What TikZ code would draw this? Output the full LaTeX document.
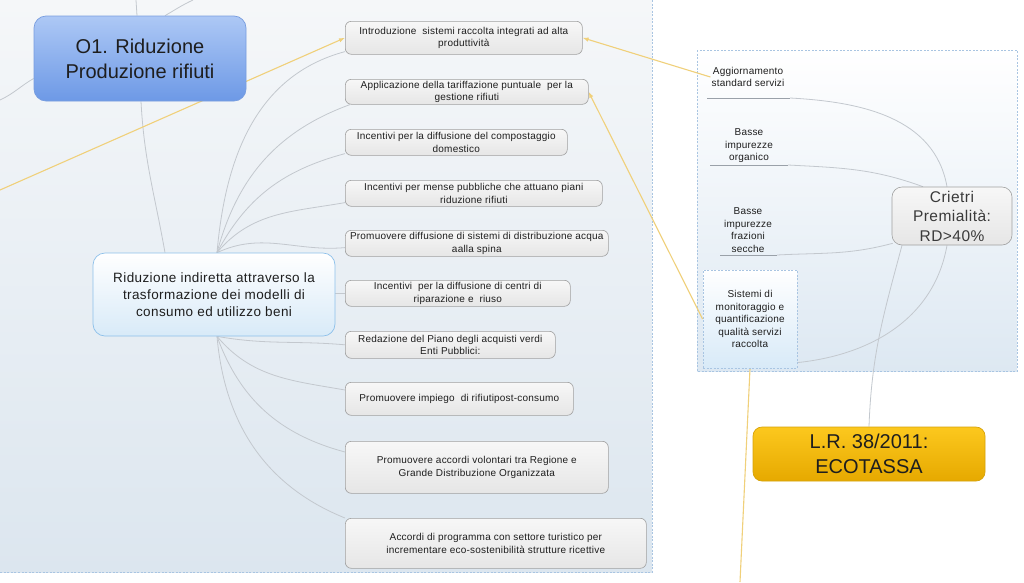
\documentclass[tikz,border=0pt]{standalone}
\usepackage{fontspec}
\setmainfont{Liberation Sans}
\newfontfamily\bxf[LetterSpace=2]{Liberation Sans}
\newfontfamily\midf[LetterSpace=3]{Liberation Sans}
\usetikzlibrary{arrows.meta}
\pgfdeclarelayer{bg}
\pgfdeclarelayer{conn}
\pgfsetlayers{bg,conn,main}
\definecolor{gline}{HTML}{C3C8CE}
\definecolor{uline}{HTML}{9AA1A9}
\definecolor{yline}{HTML}{F0D07A}
\definecolor{dashc}{HTML}{A9C5E2}
\definecolor{panelTop}{HTML}{F5F7F9}
\definecolor{panelBot}{HTML}{DCE6EF}
\definecolor{rpBot}{HTML}{DDE8F2}
\definecolor{textc}{HTML}{1E1E1E}
\definecolor{itemTop}{HTML}{F7F7F7}
\definecolor{itemBot}{HTML}{E6E6E6}
\definecolor{itemDraw}{HTML}{A0A0A0}
\definecolor{oTop}{HTML}{ADC8F5}
\definecolor{oBot}{HTML}{6D99E6}
\definecolor{oDraw}{HTML}{789DDF}
\definecolor{rTop}{HTML}{FFFFFF}
\definecolor{rBot}{HTML}{D8EAF8}
\definecolor{rDraw}{HTML}{8DC0EA}
\definecolor{lrTop}{HTML}{FCC81E}
\definecolor{lrBot}{HTML}{E6A900}
\definecolor{lrDraw}{HTML}{D6A20A}
\definecolor{crTxt}{HTML}{3A3A3A}
\tikzset{
  itembox/.style={draw=itemDraw, line width=0.6pt, rounded corners=6pt,
    top color=itemTop, bottom color=itemBot, anchor=north west, align=center,
    font=\bxf\fontsize{10}{12.5}\selectfont, text=textc, inner sep=1pt},
  ibox/.style 2 args={itembox, minimum width=#1pt, minimum height=#2pt},
  obox/.style={draw=oDraw, line width=0.7pt, rounded corners=12pt, top color=oTop,
    bottom color=oBot, align=center, text=textc, font=\fontsize{20}{25}\selectfont,
    minimum width=212pt, minimum height=85pt, inner sep=0pt},
  ridbox/.style={draw=rDraw, line width=0.7pt, rounded corners=12pt, top color=rTop,
    bottom color=rBot, align=center, text=textc, font=\midf\fontsize{13.5}{17}\selectfont,
    minimum width=242pt, minimum height=83pt, inner sep=0pt},
  criebox/.style={draw=itemDraw, line width=0.6pt, rounded corners=10pt, top color=itemTop,
    bottom color=itemBot, align=center, text=crTxt, font=\midf\fontsize{15.5}{19.5}\selectfont,
    minimum width=120pt, minimum height=58pt, inner sep=0pt},
  lrbox/.style={draw=lrDraw, line width=0.7pt, rounded corners=9pt, top color=lrTop,
    bottom color=lrBot, align=center, text=textc, font=\fontsize{20}{25}\selectfont,
    minimum width=232pt, minimum height=54pt, inner sep=0pt},
  rtext/.style={align=center, text=textc, font=\bxf\fontsize{10}{12.5}\selectfont, inner sep=1pt},
  sisbox/.style={rtext, draw=dashc, dash pattern=on 2pt off 1.5pt, line width=0.8pt,
    top color=white, bottom color=rBot, minimum width=94pt, minimum height=98pt},
  gl/.style={draw=gline, line width=0.8pt},
  ul/.style={draw=uline, line width=1pt},
  yl/.style={draw=yline, line width=1.1pt},
  ya/.style={yl, -{Latex[length=6pt,width=4.5pt]}},
  dashb/.style={draw=dashc, dash pattern=on 2pt off 1.5pt, line width=0.8pt}
}
\begin{document}
\begin{tikzpicture}[x=1pt,y=1pt]
\useasboundingbox (0,0) rectangle (1024,-582);
\begin{pgfonlayer}{bg}
  \fill[white] (0,0) rectangle (1024,-582);
  \shade[top color=panelTop, bottom color=panelBot] (0,0) rectangle (652,-572);
  \draw[dashb] (652,0) -- (652,-572) -- (0,-572);
  \shade[top color=white, bottom color=rpBot] (697,-50) rectangle (1017,-371);
  \draw[dashb] (697,-50) rectangle (1017,-371);
\end{pgfonlayer}

% main nodes
\node[obox] (o1) at (140,-58.5) {O1. Riduzione\\Produzione rifiuti};
\node[ridbox] (rid) at (214,-294.5) {Riduzione indiretta attraverso la\\trasformazione dei modelli di\\consumo ed utilizzo beni};

\node[ibox={237}{33}] (b1) at (345,-21) {Introduzione\ \ sistemi raccolta integrati ad alta\\produttività};
\node[ibox={243}{25}] (b2) at (345,-79) {Applicazione della tariffazione puntuale\ \ per la\\gestione rifiuti};
\node[ibox={222}{26}] (b3) at (345,-129) {Incentivi per la diffusione del compostaggio\\domestico};
\node[ibox={257}{26}] (b4) at (345,-180) {Incentivi per mense pubbliche che attuano piani\\riduzione rifiuti};
\node[ibox={263}{26}] (b5) at (345,-230) {Promuovere diffusione di sistemi di distribuzione acqua\\aalla spina};
\node[ibox={225}{26}] (b6) at (345,-280) {Incentivi\ \ per la diffusione di centri di\\riparazione e\ \ riuso};
\node[ibox={210}{27}] (b7) at (345,-331) {Redazione del Piano degli acquisti verdi\\Enti Pubblici:};
\node[ibox={228}{33}] (b8) at (345,-382) {Promuovere impiego\ \ di rifiutipost-consumo};
\node[ibox={263}{52}] (b9) at (345,-441) {Promuovere accordi volontari tra Regione e\\Grande Distribuzione Organizzata};
\node[ibox={301}{50}] (b10) at (345,-518) {Accordi di programma con settore turistico per\\incrementare eco-sostenibilità strutture ricettive};

% right panel
\node[rtext] (agg) at (748,-77) {Aggiornamento\\standard servizi};
\node[rtext] (org) at (749,-146) {Basse\\impurezze\\organico};
\node[rtext] (fraz) at (748,-230) {Basse\\impurezze\\frazioni\\secche};
\node[sisbox] (sis) at (750,-319) {Sistemi di\\monitoraggio e\\quantificazione\\qualità servizi\\raccolta};
\node[criebox] (crie) at (952,-216) {Crietri\\Premialità:\\RD>40\%};
\node[lrbox] (lr) at (869,-454) {L.R. 38/2011:\\ECOTASSA};

% free ends
\coordinate (top1) at (136,0);
\coordinate (top2) at (193,0);
\coordinate (lft) at (0,-100);
\coordinate (yleft) at (0,-190);
\coordinate (ybot) at (740,-582);
\coordinate (aggL) at (707,-98);  \coordinate (aggR) at (790,-98);
\coordinate (orgL) at (710,-165); \coordinate (orgR) at (788,-165);
\coordinate (frzL) at (720,-255); \coordinate (frzR) at (777,-255);
\coordinate (sisL) at (707,-363); \coordinate (sisR) at (793,-363);
\coordinate (ridT) at ([xshift=3pt]rid.north);
\coordinate (ridB) at ([xshift=3pt]rid.south);

\begin{pgfonlayer}{conn}
  % around O1
  \draw[gl] ([xshift=-3pt]o1.north) -- (top1);
  \draw[gl] ([xshift=25pt]o1.north) to[out=30,in=-155] (top2);
  \draw[gl] ([yshift=-20pt]o1.west) to[out=210,in=25] (lft);
  \draw[gl] ([xshift=1pt]o1.south) to[out=-87,in=100] ([xshift=-49pt]rid.north);
  % fan
  \draw[gl] (ridT) to[out=85,in=195] ([yshift=3pt]b1.south west);
  \draw[gl] (ridT) to[out=75,in=200] ([xshift=5pt]b2.south west);
  \draw[gl] (ridT) to[out=62,in=195] ([yshift=2pt]b3.south west);
  \draw[gl] (ridT) to[out=50,in=190] ([yshift=4pt]b4.south west);
  \draw[gl] (ridT) to[out=25,in=185] ([yshift=9pt]b5.south west);
  \draw[gl] (rid.east |- b6.west) -- (b6.west);
  \draw[gl] (ridB) to[out=-10,in=175] (b7.west);
  \draw[gl] (ridB) to[out=-50,in=170] ([yshift=-8pt]b8.north west);
  \draw[gl] (ridB) to[out=-70,in=165] ([yshift=-11pt]b9.north west);
  \draw[gl] (ridB) to[out=-85,in=158] (b10.north west);
  % right panel
  \draw[ul] (aggL) -- (aggR);
  \draw[ul] (orgL) -- (orgR);
  \draw[ul] (frzL) -- (frzR);
  \draw[ul] (sisL) -- (sisR);
  \draw[gl] (aggR) to[out=-3,in=100] ([xshift=-5pt]crie.north);
  \draw[gl] (orgR) to[out=-3,in=160] ([xshift=-29pt]crie.north);
  \draw[gl] (frzR) to[out=3,in=195] ([xshift=1pt,yshift=2pt]crie.south west);
  \draw[gl] (sisR) to[out=5,in=-100] ([xshift=-5pt]crie.south);
  \draw[gl] (lr.north) to[out=88,in=-105] ([xshift=-50pt]crie.south);
  % yellow
  \draw[yl] (ybot) -- (sis.south);
  \draw[ya] (yleft) -- (b1.west);
  \draw[ya] (agg.west) -- (b1.east);
  \draw[ya] (sis.west) -- (b2.east);
\end{pgfonlayer}
\end{tikzpicture}
\end{document}
